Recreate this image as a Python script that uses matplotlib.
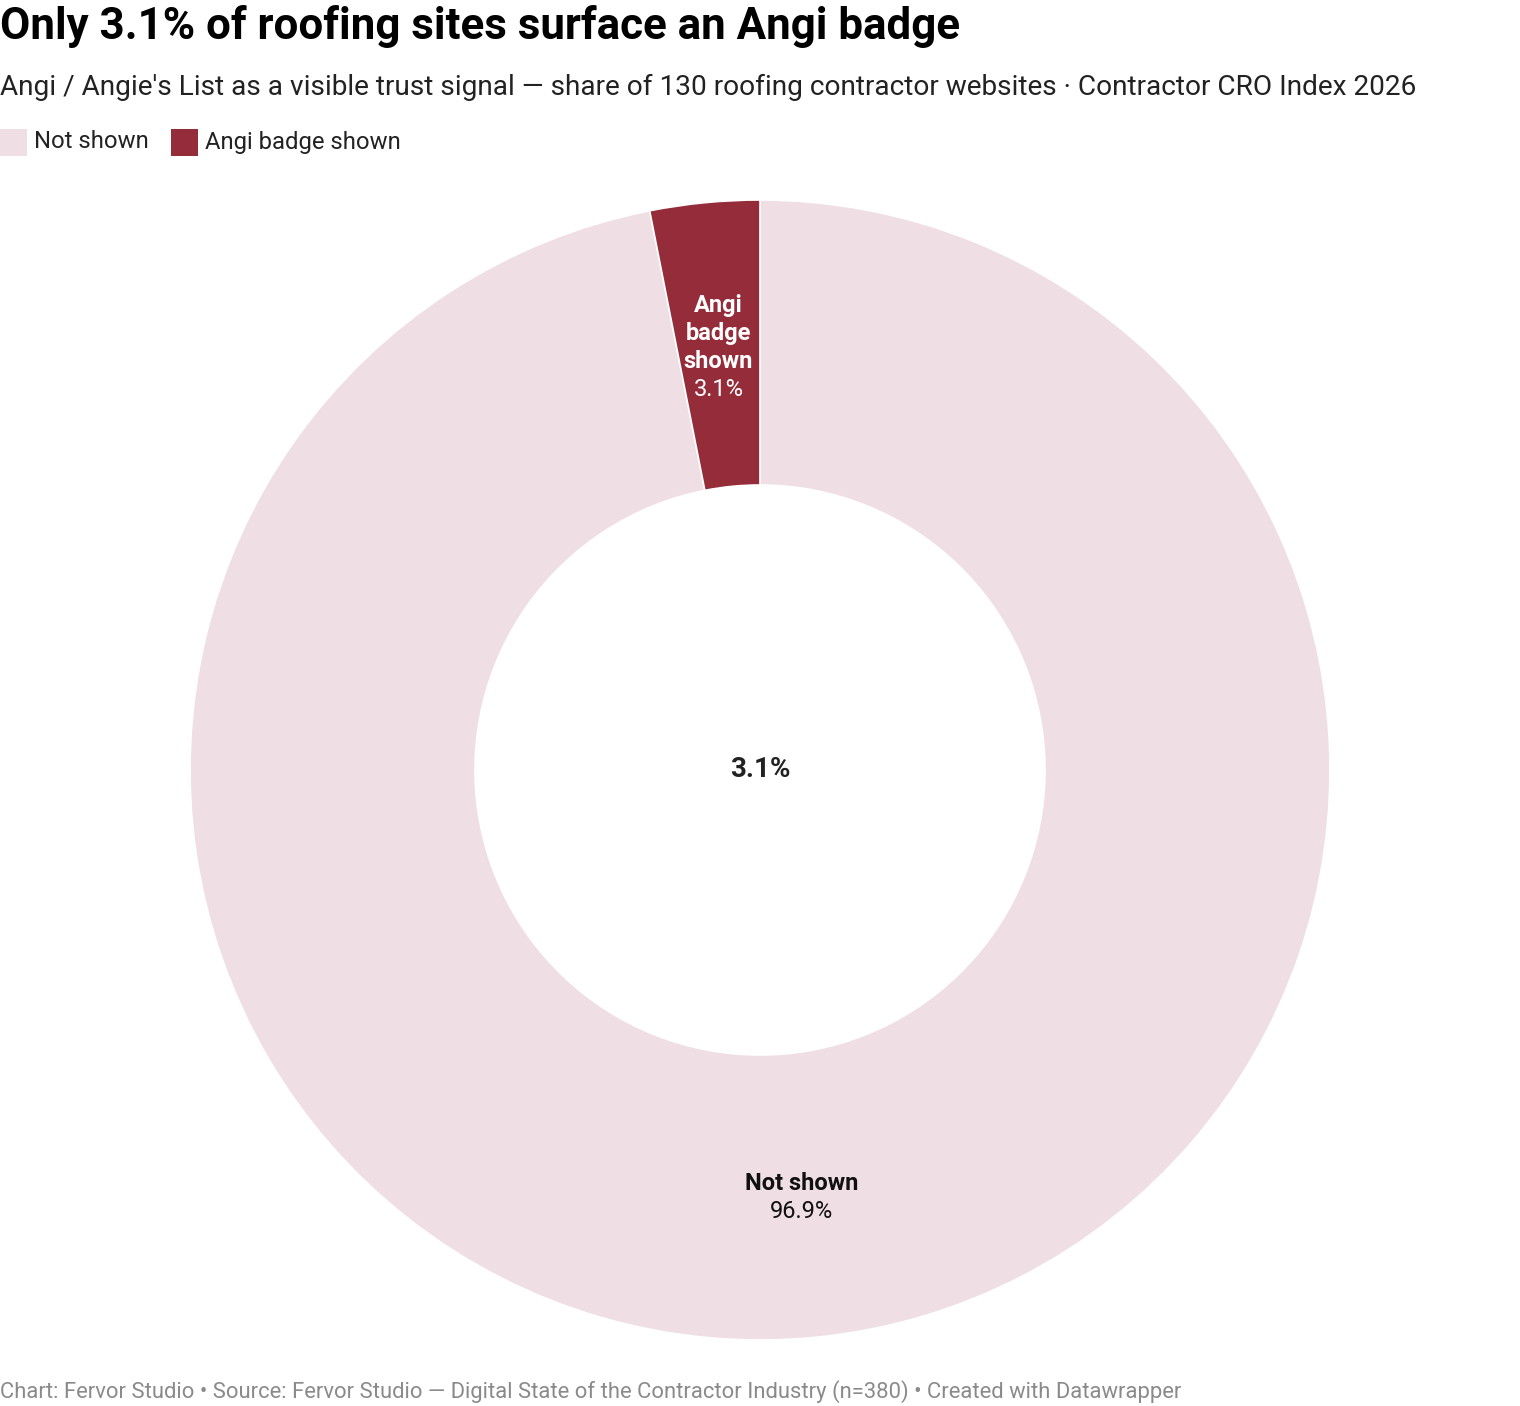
import matplotlib
matplotlib.use("Agg")
import matplotlib.pyplot as plt
from matplotlib.patches import Rectangle
from matplotlib.transforms import offset_copy
import numpy as np

categories = ["Not shown", "Angi badge shown"]
values = [96.9, 3.1]
colors = ["#efdfe4", "#952c3a"]
label_colors = ["#111111", "#ffffff"]
label_lines = [["Not shown"], ["Angi", "badge", "shown"]]
center_value = "3.1%"

title = "Only 3.1% of roofing sites surface an Angi badge"
subtitle = ("Angi / Angie's List as a visible trust signal \u2014 share of 130 roofing "
            "contractor websites \u00b7 Contractor CRO Index 2026")
footer = ("Chart: Fervor Studio \u2022 Source: Fervor Studio \u2014 Digital State of the "
          "Contractor Industry (n=380) \u2022 Created with Datawrapper")

plt.rcParams['font.family'] = ['Roboto', 'DejaVu Sans']

W, H = 1520, 1406
fig = plt.figure(figsize=(W / 100, H / 100), dpi=100)
fig.patch.set_facecolor("white")

def fx(px):
    return px / W

def fy(py):
    return 1 - py / H

# Title, subtitle
fig.text(fx(0), fy(26), title, fontsize=31.6, fontweight="bold", color="#000000",
         va="center", ha="left")
fig.text(fx(0), fy(87), subtitle, fontsize=20.15, color="#222222", va="center", ha="left")

# Legend
leg_x = 0
leg_y = 142
for cat, col in zip(categories, colors):
    fig.patches.append(Rectangle((fx(leg_x), fy(156)), 27 / W, 27 / H,
                                 transform=fig.transFigure, facecolor=col,
                                 edgecolor="none"))
    t = fig.text(fx(leg_x + 34), fy(leg_y), cat, fontsize=17.2, color="#222222",
                 va="center", ha="left")
    fig.canvas.draw()
    bb = t.get_window_extent()
    leg_x = bb.x1 + 22

# Donut
cx, cy, R = 760, 770, 570
ax = fig.add_axes([fx(cx - R), fy(cy + R), 2 * R / W, 2 * R / H])

wedges, _ = ax.pie(values, colors=colors, startangle=90, counterclock=False,
                   radius=1, wedgeprops=dict(width=0.5, edgecolor="white", linewidth=1.2))
ax.set_xlim(-1, 1)
ax.set_ylim(-1, 1)
ax.set_aspect("equal")
ax.axis("off")

line_h = 28  # px (= points at dpi 100 * 100/72)
for w, lines, val, lc in zip(wedges, label_lines, values, label_colors):
    ang = np.deg2rad((w.theta1 + w.theta2) / 2)
    r = 0.75
    x, y = r * np.cos(ang), r * np.sin(ang)
    items = [(s, "bold") for s in lines] + [(f"{val:.1f}%", "normal")]
    n = len(items)
    for i, (s, wt) in enumerate(items):
        off_px = ((n - 1) / 2 - i) * line_h
        tr = offset_copy(ax.transData, fig=fig, x=0, y=off_px * 72 / 100, units="points")
        ax.text(x, y, s, ha="center", va="center_baseline", fontsize=17,
                fontweight=wt, color=lc, transform=tr)

ax.text(0, 0, center_value, ha="center", va="center", fontsize=20,
        fontweight="bold", color="#222222")

fig.text(fx(0), fy(1392), footer, fontsize=15.8, color="#8a8a8a", va="center", ha="left")

fig.savefig("out.png", dpi=100, facecolor="white")
